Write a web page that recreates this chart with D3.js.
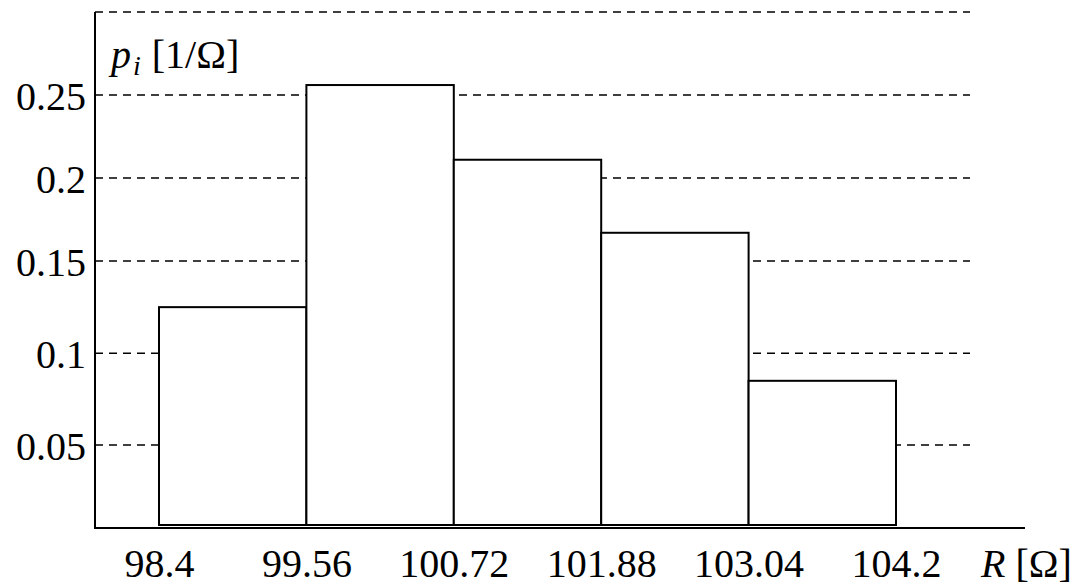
<!DOCTYPE html>
<html>
<head>
<meta charset="utf-8">
<script src="https://cdn.jsdelivr.net/npm/d3@7"></script>
<style>
  html, body { margin: 0; padding: 0; background: #fff; }
  svg { display: block; }
  text { font-family: "Liberation Serif", "Times New Roman", serif; fill: #000; }
</style>
</head>
<body>
<svg id="chart" width="1078" height="586"></svg>
<script>
// Histogram of resistance measurements: bin edges in ohms, probability density per bin
const binEdges = [98.4, 99.56, 100.72, 101.88, 103.04, 104.2];
const binLabels = ["98.4", "99.56", "100.72", "101.88", "103.04", "104.2"];
const density = [0.125, 0.256, 0.211, 0.167, 0.085];
const gridValues = [0.05, 0.1, 0.15, 0.2, 0.25, 0.3];
const yTickValues = [0.05, 0.1, 0.15, 0.2, 0.25];
const yTickLabels = ["0.05", "0.1", "0.15", "0.2", "0.25"];

const svg = d3.select("#chart");

const axisX0 = 95, axisX1 = 1025, gridX1 = 970;
const axisY = 528, axisTop = 12;

const x = d3.scaleLinear().domain([98.4, 104.2]).range([159, 896]);
// the value axis is drawn with slightly wider spacing below 0.15
const y = d3.scaleLinear()
  .domain([0, 0.05, 0.1, 0.15, 0.3])
  .range([525, 445, 353.3, 261, 12]);

// dashed reference lines
svg.append("g")
  .selectAll("line")
  .data(gridValues)
  .join("line")
  .attr("x1", axisX0).attr("x2", gridX1)
  .attr("y1", d => y(d)).attr("y2", d => y(d))
  .attr("stroke", "#000")
  .attr("stroke-width", 1.6)
  .attr("stroke-dasharray", "8,6");

// histogram bars
const bins = density.map((v, i) => ({ x0: binEdges[i], x1: binEdges[i + 1], v }));
svg.append("g")
  .selectAll("rect")
  .data(bins)
  .join("rect")
  .attr("x", d => x(d.x0))
  .attr("width", d => x(d.x1) - x(d.x0))
  .attr("y", d => y(d.v))
  .attr("height", d => y(0) - y(d.v))
  .attr("fill", "#fff")
  .attr("stroke", "#000")
  .attr("stroke-width", 2);

// axis lines
svg.append("line")
  .attr("x1", axisX0).attr("x2", axisX0)
  .attr("y1", axisTop).attr("y2", axisY + 1)
  .attr("stroke", "#000").attr("stroke-width", 2);
svg.append("line")
  .attr("x1", axisX0 - 1).attr("x2", axisX1)
  .attr("y1", axisY).attr("y2", axisY)
  .attr("stroke", "#000").attr("stroke-width", 2);

// value axis labels
const yAxis = svg.append("g")
  .attr("transform", `translate(${axisX0},0)`)
  .call(d3.axisLeft(y)
    .tickValues(yTickValues)
    .tickFormat((d, i) => yTickLabels[i])
    .tickSize(0)
    .tickPadding(9));
yAxis.select(".domain").remove();
yAxis.selectAll("text")
  .attr("font-size", 40)
  .attr("font-family", "Liberation Serif")
  .attr("dy", "0.36em");

// bin edge labels
const xAxis = svg.append("g")
  .attr("transform", `translate(0,${axisY})`)
  .call(d3.axisBottom(x)
    .tickValues(binEdges)
    .tickFormat((d, i) => binLabels[i])
    .tickSize(0));
xAxis.select(".domain").remove();
xAxis.selectAll("text")
  .attr("font-size", 40)
  .attr("font-family", "Liberation Serif")
  .attr("y", 49)
  .attr("dy", 0);

// axis titles
const yTitle = svg.append("text")
  .attr("x", 111).attr("y", 68)
  .attr("font-size", 40);
yTitle.append("tspan").attr("font-style", "italic").text("p");
yTitle.append("tspan").attr("font-style", "italic").attr("font-size", 28)
  .attr("dx", 2).attr("dy", 7).text("i");
yTitle.append("tspan").attr("dx", 1).attr("dy", -7).text(" [1/Ω]");

const xTitle = svg.append("text")
  .attr("x", 981).attr("y", 577)
  .attr("font-size", 40);
xTitle.append("tspan").attr("font-style", "italic").text("R");
xTitle.append("tspan").text(" [Ω]");
</script>
</body>
</html>
